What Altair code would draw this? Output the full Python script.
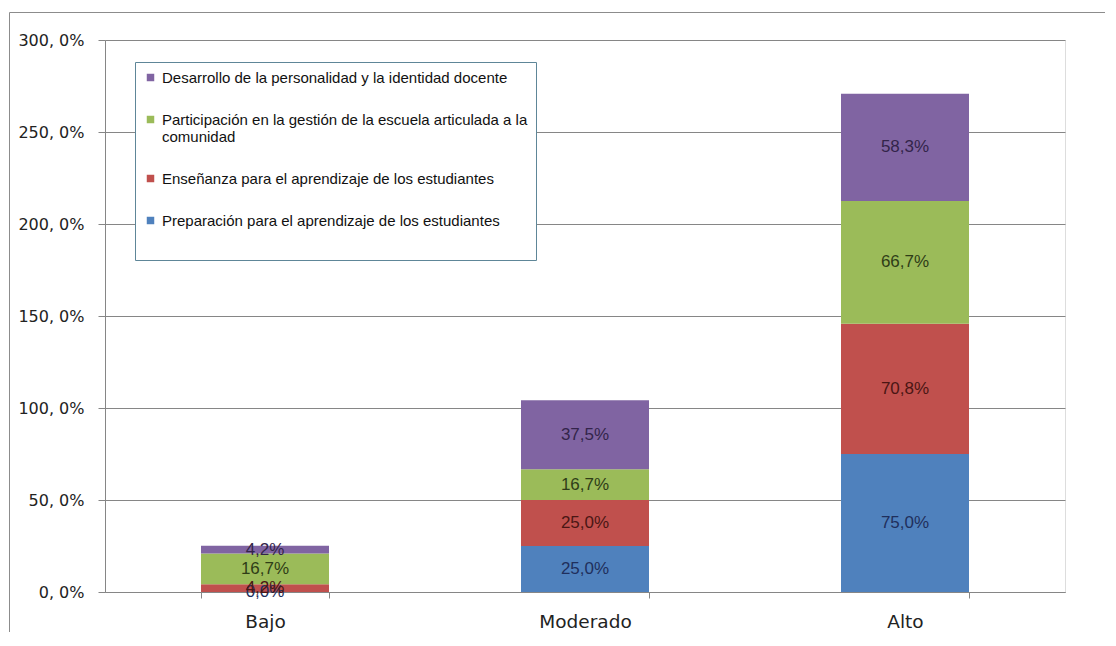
import altair as alt
import pandas as pd

categories = ["Bajo", "Moderado", "Alto"]
series = [
    "Preparación para el aprendizaje de los estudiantes",
    "Enseñanza para el aprendizaje de los estudiantes",
    "Participación en la gestión de la escuela articulada a la comunidad",
    "Desarrollo de la personalidad y la identidad docente",
]
prep = [0.0, 25.0, 75.0]
ense = [4.2, 25.0, 70.8]
part = [16.7, 16.7, 66.7]
desa = [4.2, 37.5, 58.3]

bar_colors = ["#4F81BD", "#C0504D", "#9BBB59", "#8064A2"]
label_colors = ["#1F2F5C", "#4A1614", "#2F3D17", "#33244A"]

rows = []
for si, (name, vals) in enumerate(zip(series, [prep, ense, part, desa])):
    for ci, cat in enumerate(categories):
        rows.append({"cat": cat, "serie": name, "value": vals[ci], "ord": si,
                     "lc": label_colors[si]})
df = pd.DataFrame(rows)

legend_order = series[::-1]
legend_colors = bar_colors[::-1]

xscale = alt.Scale(domain=categories, paddingInner=0.6, paddingOuter=0.3)
yscale = alt.Scale(domain=[0, 300], nice=False)

base = alt.Chart(df)

bars = base.mark_bar(size=128).encode(
    x=alt.X("cat:N", scale=xscale, sort=categories, title=None,
            axis=alt.Axis(labelAngle=0, tickBand="extent", labelFont="DejaVu Sans",
                          labelFontSize=18.5, labelColor="#222222", labelPadding=14,
                          tickSize=6, tickColor="#868686", domainColor="#868686",
                          grid=False)),
    y=alt.Y("value:Q", stack="zero", scale=yscale, title=None,
            axis=alt.Axis(values=[0, 50, 100, 150, 200, 250, 300],
                          labelExpr="replace(format(datum.value, '.1f'), '.', ', ') + '%'",
                          labelFont="DejaVu Sans", labelFontSize=16, labelColor="#222222",
                          labelPadding=14, tickSize=7, tickColor="#868686",
                          domainColor="#868686", gridColor="#868686", grid=True)),
    color=alt.Color("serie:N", scale=alt.Scale(domain=legend_order, range=legend_colors),
                    legend=alt.Legend(
                        title=" ", titleOrient="bottom", titleFontSize=14, titlePadding=9,
                        orient="none", legendX=30, legendY=22,
                        direction="vertical",
                        labelExpr="indexof(datum.label, 'articulada') > 0 ? ['Participación en la gestión de la escuela articulada a la', 'comunidad'] : datum.label",
                        labelFont="Liberation Sans", labelFontSize=15, labelColor="#111111",
                        labelLimit=500, symbolType="square", symbolSize=56,
                        symbolStrokeWidth=0, rowPadding=26, padding=8,
                        fillColor="white", strokeColor="#5E8698",
                        labelBaseline="middle", labelOffset=4)),
    order=alt.Order("ord:Q", sort="ascending"),
)

labels = base.transform_window(
    cum="sum(value)", groupby=["cat"], sort=[alt.SortField("ord")],
    frame=[None, 0]
).transform_calculate(
    mid="datum.cum - datum.value / 2",
    txt="replace(format(datum.value, '.1f'), '.', ',') + '%'",
).mark_text(font="Liberation Sans", fontSize=17, baseline="middle").encode(
    x=alt.X("cat:N", scale=xscale, sort=categories),
    y=alt.Y("mid:Q", scale=yscale),
    text="txt:N",
    color=alt.Color("lc:N", scale=None, legend=None),
)

border = alt.Chart(alt.Data(values=[{}])).mark_rect(
    fillOpacity=0, stroke="#8C8C8C", strokeWidth=1
).encode(x=alt.value(-95.5), x2=alt.value(1200), y=alt.value(-27.5), y2=alt.value(800))

chart = alt.layer(border, bars, labels).resolve_scale(color="independent").properties(
    width=960, height=552,
    autosize=alt.AutoSizeParams(type="none"),
    padding={"left": 97, "top": 32, "right": 40, "bottom": 40},
).configure_view(stroke=None).configure(background="white")

chart.save("out.html", embed_options={"renderer": "svg", "actions": False})
